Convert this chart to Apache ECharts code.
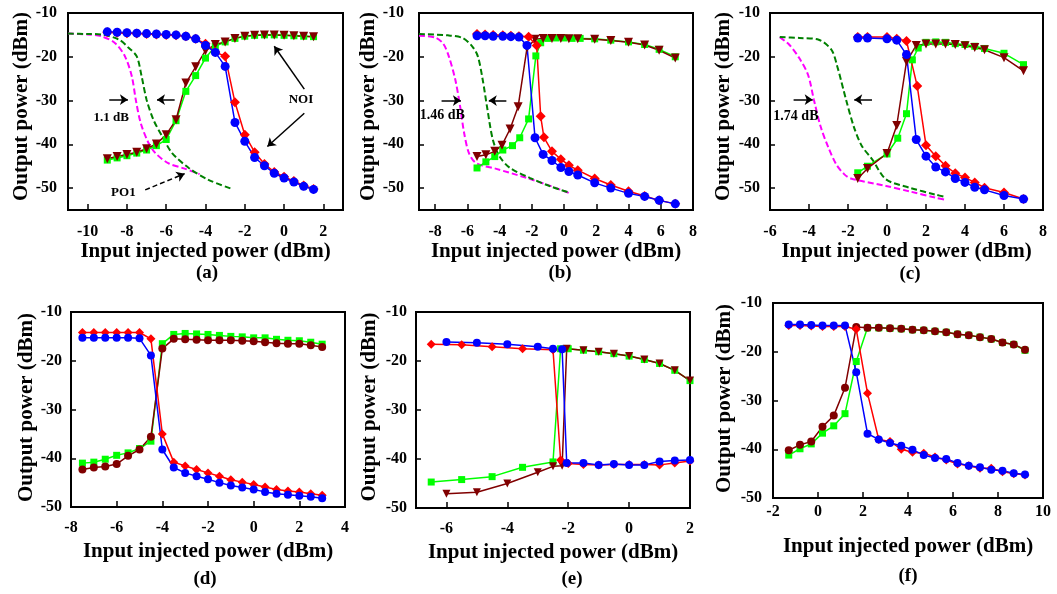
<!DOCTYPE html>
<html><head><meta charset="utf-8">
<script src="https://cdn.jsdelivr.net/npm/echarts@6/dist/echarts.min.js"></script>
<style>html,body{margin:0;padding:0;background:#fff;}#c{width:1057px;height:594px;}</style>
</head><body><div id="c"></div>
<script>
// ---------- tick labels ----------
const a_xt = [-10,-8,-6,-4,-2,0,2];
const b_xt = [-8,-6,-4,-2,0,2,4,6,8];
const c_xt = [-6,-4,-2,0,2,4,6,8];
const d_xt = [-8,-6,-4,-2,0,2,4];
const e_xt = [-6,-4,-2,0,2];
const f_xt = [-2,0,2,4,6,8,10];
const yt = [-10,-20,-30,-40,-50];
const xRanges = [[-11,3],[-9,8],[-6,8],[-8,4],[-7,2],[-2,10]];
const yRanges = [[-55,-10],[-55,-10],[-55,-10],[-50,-10],[-50,-10],[-50,-10]];
const panelLabels = ['(a)','(b)','(c)','(d)','(e)','(f)'];

// ---------- panel (a) ----------
const a_x = [-9,-8.5,-8,-7.5,-7,-6.5,-6,-5.5,-5,-4.5,-4,-3.5,-3,-2.5,-2,-1.5,-1,-0.5,0,0.5,1,1.5];
const a_blue  = [-14.3,-14.4,-14.5,-14.6,-14.7,-14.8,-14.9,-15.0,-15.3,-15.9,-17.4,-19.0,-22.2,-35.0,-39.3,-43.0,-44.9,-46.6,-47.7,-48.6,-49.6,-50.3];
const a_red   = [-14.4,-14.5,-14.6,-14.7,-14.8,-14.9,-15.0,-15.1,-15.3,-15.9,-17.0,-18.9,-19.9,-30.4,-37.8,-41.8,-44.5,-46.3,-47.4,-48.4,-49.4,-50.2];
const a_brown = [-43.3,-42.8,-42.3,-41.8,-41.0,-39.9,-37.8,-34.4,-26.0,-22.3,-18.6,-17.2,-16.6,-15.8,-15.3,-15.1,-15.0,-15.0,-15.1,-15.2,-15.3,-15.4];
const a_green = [-43.6,-43.1,-42.6,-42.0,-41.3,-40.3,-38.9,-34.6,-27.9,-24.3,-20.3,-17.6,-16.6,-15.8,-15.3,-15.1,-15.0,-15.0,-15.1,-15.2,-15.3,-15.4];
const a_magenta = [[-11,-14.7],[-10,-14.9],[-9.3,-15.3],[-8.6,-16.9],[-8.1,-19.9],[-7.75,-24.5],[-7.55,-29.8],[-7.3,-35.1],[-6.9,-39.7],[-6.55,-42],[-5.9,-44.3],[-5.1,-45.5],[-4.3,-46.8]];
const a_greenDash = [[-11,-14.7],[-10,-14.8],[-9.3,-14.9],[-8.4,-16.1],[-7.9,-18],[-7.5,-19.9],[-7.25,-24.5],[-7.0,-29.8],[-6.65,-34.4],[-6.2,-38.2],[-5.7,-42],[-4.85,-45.4],[-3.85,-48.1],[-2.65,-50.2]];
const a_arrows = [[[-8.9,-29.8],[-7.95,-29.8]],[[-5.57,-29.8],[-6.47,-29.8]],[[1.03,-27.4],[-0.5,-17.6]],[[1.03,-32.9],[-0.85,-40.5]]];
const a_dashArrows = [[[-7.07,-50.4],[-5.06,-46.7]]];
const a_texts = [['1.1 dB',-8.8,-34],['NOI',0.86,-29.8],['PO1',-8.18,-51]];

// ---------- panel (b) ----------
const b_blue = [[-5.4,-15.2],[-4.9,-15.2],[-4.4,-15.3],[-3.8,-15.3],[-3.3,-15.4],[-2.8,-15.5],[-2.3,-17.4],[-1.8,-38.5],[-1.3,-42.3],[-0.75,-43.7],[-0.2,-45.3],[0.3,-46.2],[0.85,-47.0],[1.9,-48.8],[2.9,-50.0],[4.0,-51.2],[5.0,-51.9],[5.9,-52.8],[6.9,-53.6]];
const b_red = [[-5.4,-14.8],[-4.9,-14.9],[-4.4,-15.0],[-3.8,-15.1],[-3.3,-15.2],[-2.8,-15.3],[-2.2,-15.4],[-1.7,-17.4],[-1.45,-33.6],[-1.25,-38.4],[-0.75,-41.6],[-0.2,-43.4],[0.3,-44.8],[0.85,-45.9],[1.9,-47.8],[2.9,-49.3],[4.0,-50.7],[5.0,-51.8],[5.9,-52.8],[6.9,-53.6]];
const b_brown = [[-5.4,-42.8],[-4.85,-42.4],[-4.3,-41.6],[-3.85,-40.2],[-3.35,-36.5],[-2.85,-31.4],[-2.3,-18.0],[-1.8,-16.0],[-1.3,-15.8],[-0.75,-15.8],[-0.2,-15.8],[0.3,-15.9],[0.85,-15.9],[1.9,-16.0],[2.9,-16.3],[4.0,-16.7],[5.0,-17.3],[5.9,-18.5],[6.9,-20.3]];
const b_green = [[-5.4,-45.4],[-4.85,-44.0],[-4.3,-42.8],[-3.8,-41.3],[-3.2,-40.3],[-2.75,-38.5],[-2.2,-34.2],[-1.75,-19.8],[-1.45,-16.8],[-1.0,-15.8],[-0.5,-15.7],[0.0,-15.7],[0.5,-15.8],[1.0,-15.8],[1.9,-15.9],[2.9,-16.2],[4.0,-16.6],[5.0,-17.2],[5.9,-18.3],[6.9,-20.0]];
const b_magenta = [[-9,-15.2],[-8,-15.6],[-7.5,-17.0],[-7.15,-19.9],[-6.75,-25.2],[-6.45,-31.3],[-6.2,-37.4],[-5.9,-42],[-5.45,-44.3],[-4.2,-45.6],[-2.3,-47.7],[-0.85,-49.5],[0.3,-51.1]];
const b_greenDash = [[-9,-14.8],[-7.2,-15.1],[-6.3,-15.7],[-5.7,-17.6],[-5.35,-19.9],[-5.05,-25.2],[-4.75,-32.1],[-4.42,-38.9],[-4.0,-42.8],[-3.35,-45.4],[-2.1,-47.7],[-0.85,-49.6],[0.3,-51.0]];
const b_arrows = [[[-7.6,-30],[-6.4,-30]],[[-3.58,-30],[-4.67,-30]]];
const b_texts = [['1.46 dB',-7.55,-33.3]];

// ---------- panel (c) ----------
const c_blue = [[-1.5,-15.7],[-1.0,-15.7],[0,-15.9],[0.5,-16.2],[1.0,-19.5],[1.5,-38.9],[2.0,-42.7],[2.5,-45.2],[3.0,-46.3],[3.5,-47.8],[4.0,-48.7],[4.5,-49.8],[5.0,-50.4],[6.0,-51.7],[7.0,-52.5]];
const c_red = [[-1.5,-15.5],[-1.0,-15.5],[0,-15.5],[0.5,-15.9],[1.0,-16.4],[1.55,-26.7],[2.0,-40.2],[2.5,-42.7],[3.0,-44.9],[3.5,-46.6],[4.0,-47.6],[4.5,-48.7],[5.0,-49.9],[6.0,-51.0],[7.0,-52.5]];
const c_brown = [[-1.5,-47.8],[-1.0,-45.5],[0,-42.1],[0.5,-35.7],[1.0,-21.1],[1.5,-17.4],[2.0,-17.1],[2.5,-17.1],[3.0,-17.1],[3.5,-17.2],[4.0,-17.5],[4.5,-17.9],[5.0,-18.4],[6.0,-20.2],[7.0,-23.2]];
const c_green = [[-1.5,-46.5],[-1.0,-45.0],[0,-42.2],[0.55,-38.6],[1.0,-33.0],[1.3,-20.7],[1.6,-18.0],[2.0,-16.7],[2.5,-16.6],[3.0,-16.7],[3.5,-17.0],[4.0,-17.2],[4.5,-17.6],[5.0,-18.1],[6.0,-19.2],[7.0,-21.8]];
const c_magenta = [[-5.5,-15.5],[-5.0,-17.3],[-4.5,-20.3],[-4.05,-24.1],[-3.75,-29.8],[-3.4,-36],[-3.0,-40.8],[-2.6,-44.6],[-2.2,-46.8],[-1.85,-47.8],[-0.05,-49.5],[1.2,-50.8],[2.5,-52.2],[2.95,-52.6]];
const c_greenDash = [[-5.5,-15.5],[-4.5,-15.7],[-3.5,-16.1],[-2.85,-18.4],[-2.55,-22.2],[-2.1,-29.8],[-1.7,-36],[-1.3,-40.3],[-0.75,-43.5],[-0.05,-48.0],[1.15,-49.9],[2.5,-51.5],[2.95,-52]];
const c_arrows = [[[-4.79,-29.8],[-3.81,-29.8]],[[-0.77,-29.8],[-1.68,-29.8]]];
const c_texts = [['1.74 dB',-4.67,-33.7]];

// ---------- panel (d) ----------
const d_x = [-7.5,-7,-6.5,-6,-5.5,-5,-4.5,-4,-3.5,-3,-2.5,-2,-1.5,-1,-0.5,0,0.5,1,1.5,2,2.5,3];
const d_red   = [-14.2,-14.2,-14.2,-14.2,-14.2,-14.2,-15.5,-35.0,-40.8,-41.6,-42.3,-43.0,-43.7,-44.4,-44.9,-45.4,-45.9,-46.4,-46.7,-46.9,-47.3,-47.6];
const d_blue  = [-15.3,-15.3,-15.3,-15.3,-15.3,-15.4,-18.9,-38.2,-41.9,-43.0,-43.7,-44.3,-45.0,-45.6,-46.0,-46.4,-46.9,-47.3,-47.5,-47.7,-47.9,-48.2];
const d_green = [-41.0,-40.8,-40.2,-39.4,-38.9,-38.0,-36.5,-16.5,-14.6,-14.4,-14.5,-14.6,-14.8,-15.0,-15.1,-15.3,-15.3,-15.6,-15.8,-15.9,-16.2,-16.6];
const d_brown = [-42.3,-41.9,-41.7,-41.2,-39.5,-38.2,-35.6,-17.5,-15.5,-15.6,-15.7,-15.8,-15.8,-15.8,-15.9,-16.0,-16.2,-16.4,-16.5,-16.5,-16.8,-17.2];

// ---------- panel (e) ----------
const e_red = [[-6.5,-16.6],[-5.5,-16.7],[-4.5,-17.1],[-3.5,-17.5],[-2.5,-17.7],[-2.25,-40.2],[-2.0,-40.9],[-1.5,-41.1],[-1.0,-41.2],[-0.5,-41.1],[0,-41.1],[0.5,-41.1],[1.0,-41.2],[1.5,-40.8],[2.0,-40.4]];
const e_blue = [[-6.0,-16.1],[-5.0,-16.3],[-4.0,-16.6],[-3.0,-17.1],[-2.5,-17.5],[-2.2,-17.6],[-2.05,-40.8],[-1.5,-40.8],[-1.0,-41.2],[-0.5,-41.0],[0,-41.2],[0.5,-41.2],[1.0,-40.5],[1.5,-40.3],[2.0,-40.2]];
const e_green = [[-6.5,-44.7],[-5.5,-44.2],[-4.5,-43.6],[-3.5,-41.7],[-2.5,-40.6],[-2.25,-17.5],[-2.0,-17.5],[-1.5,-17.8],[-1.0,-18.1],[-0.5,-18.5],[0,-19.0],[0.5,-19.7],[1.0,-20.5],[1.5,-21.9],[2.0,-24.0]];
const e_brown = [[-6.0,-47.1],[-5.0,-46.8],[-4.0,-45.0],[-3.0,-42.7],[-2.5,-41.5],[-2.2,-41.4],[-2.05,-17.5],[-1.5,-17.8],[-1.0,-18.1],[-0.5,-18.5],[0,-19.0],[0.5,-19.7],[1.0,-20.5],[1.5,-21.9],[2.0,-24.0]];

// ---------- panel (f) ----------
const f_x = [-1.3,-0.8,-0.3,0.2,0.7,1.2,1.7,2.2,2.7,3.2,3.7,4.2,4.7,5.2,5.7,6.2,6.7,7.2,7.7,8.2,8.7,9.2];
const f_blue  = [-14.4,-14.4,-14.5,-14.6,-14.6,-14.6,-24.2,-36.8,-38.0,-38.7,-39.3,-40.1,-41.2,-41.8,-42.0,-42.8,-43.4,-43.7,-44.2,-44.4,-44.9,-45.2];
const f_red   = [-14.6,-14.6,-14.7,-14.8,-14.8,-14.8,-15.4,-28.5,-38.0,-38.4,-40.0,-40.6,-40.8,-41.6,-42.2,-43.0,-43.4,-43.9,-43.9,-44.6,-45.0,-45.3];
const f_brown = [-40.2,-39.1,-38.4,-35.4,-33.1,-27.4,-14.9,-15.1,-15.1,-15.2,-15.3,-15.5,-15.6,-15.8,-16.0,-16.4,-16.6,-17.0,-17.4,-18.1,-18.5,-19.6];
const f_green = [-41.2,-39.9,-38.9,-36.7,-35.2,-32.7,-22.0,-15.1,-15.1,-15.2,-15.3,-15.5,-15.6,-15.8,-16.0,-16.4,-16.6,-17.0,-17.4,-18.1,-18.5,-19.7];

// ---------- helpers ----------
const zip = (xs, ys) => xs.map((x, i) => [x, ys[i]]);
const FONT = 'Liberation Serif';
const grids = [
  {left:68, top:13, width:275, height:197},
  {left:419, top:13, width:274, height:197},
  {left:770, top:13, width:273, height:197},
  {left:71, top:312, width:274, height:195},
  {left:416, top:312, width:274, height:196},
  {left:773, top:303, width:270, height:195}
];
const xTicks = [a_xt, b_xt, c_xt, d_xt, e_xt, f_xt];
const xLabelMargin = [14,14,14,13,13,6];
const xNameGap = [31,31,31,34,34,38];
const yLabelMargin = [11,15,10,9,9,11];
const yNameGap = [34,35,36,34,36,38];
const yNamePad = [[0,0,0,10],[0,0,0,10],[0,0,0,10],[0,0,0,4],[0,0,0,6],[0,0,0,4]];
const labelPos = [[207,273],[560,273],[910,274],[205,579],[572,579],[908,576]];

const txt = {color:'#000', fontFamily:FONT, fontWeight:'bold'};
const gridOpt = grids.map(g => Object.assign({show:true, borderColor:'#000', borderWidth:2, backgroundColor:'transparent'}, g));
const xAxes = grids.map((g, i) => ({
  type:'value', gridIndex:i, min:xRanges[i][0], max:xRanges[i][1],
  axisLine:{show:true, onZero:false, lineStyle:{color:'#000', width:2}}, splitLine:{show:false},
  axisTick:{show:true, inside:true, length:6, customValues:xTicks[i], lineStyle:{color:'#000', width:1.5}},
  axisLabel:Object.assign({customValues:xTicks[i], margin:xLabelMargin[i], fontSize:16}, txt),
  name:'Input injected power (dBm)', nameLocation:'middle', nameGap:xNameGap[i],
  nameTextStyle:Object.assign({fontSize:21}, txt)
}));
const yAxes = grids.map((g, i) => ({
  type:'value', gridIndex:i, min:yRanges[i][0], max:yRanges[i][1],
  axisLine:{show:true, onZero:false, lineStyle:{color:'#000', width:2}}, splitLine:{show:false},
  axisTick:{show:true, inside:true, length:5, customValues:yt, lineStyle:{color:'#000', width:1.5}},
  axisLabel:Object.assign({customValues:yt, margin:yLabelMargin[i], fontSize:16}, txt),
  name:'Output power (dBm)', nameLocation:'middle', nameRotate:90, nameGap:yNameGap[i],
  nameTextStyle:Object.assign({fontSize:21, padding:yNamePad[i]}, txt)
}));

const STY = {
  blue:  {color:'#0000ff', symbol:'circle', size:9},
  red:   {color:'#ff0000', symbol:'diamond', size:10},
  green: {color:'#00ff00', symbol:'rect', size:7},
  brown: {color:'#800000', symbol:'triangle', size:9, rot:180},
  brownC:{color:'#800000', symbol:'circle', size:9}
};
function mark(i, data, key, sizeAdj) {
  const s = STY[key];
  return {
    type:'line', xAxisIndex:i, yAxisIndex:i, data:data,
    symbol:s.symbol, symbolSize:s.size + (sizeAdj || 0), symbolRotate:s.rot || 0,
    showAllSymbol:true, clip:false,
    lineStyle:{color:s.color, width:1.5}, itemStyle:{color:s.color},
    emphasis:{disabled:true}
  };
}
function dashed(i, data, color, extra) {
  return Object.assign({
    type:'line', xAxisIndex:i, yAxisIndex:i, data:data, smooth:0.3,
    showSymbol:false, symbol:'none',
    lineStyle:{color:color, width:2, type:[6,3]}, emphasis:{disabled:true}
  }, extra || {});
}
function annot(arrows, dashArrows, texts, fs) {
  const lines = arrows.map(a => [{coord:a[0], lineStyle:{type:'solid'}}, {coord:a[1]}]);
  const dl = (dashArrows || []).map(a => [{coord:a[0], lineStyle:{type:[5,3]}}, {coord:a[1]}]);
  return {
    markLine:{silent:true, symbol:['none','arrow'], symbolSize:8, label:{show:false},
      lineStyle:{color:'#000', width:1.5, type:'solid'}, data:lines.concat(dl)},
    markPoint:{silent:true, symbol:'circle', symbolSize:0,
      label:Object.assign({show:true, position:'inside', formatter:'{b}', fontSize:fs}, txt),
      data:texts.map(t => ({name:t[0], coord:[t[1], t[2]]}))}
  };
}

const series = [
  // (a)
  dashed(0, a_magenta, '#ff00ff'),
  dashed(0, a_greenDash, '#008000', annot(a_arrows, a_dashArrows, a_texts, 13)),
  mark(0, zip(a_x, a_green), 'green'),
  mark(0, zip(a_x, a_brown), 'brown'),
  mark(0, zip(a_x, a_red), 'red'),
  mark(0, zip(a_x, a_blue), 'blue'),
  // (b)
  dashed(1, b_magenta, '#ff00ff'),
  dashed(1, b_greenDash, '#008000', annot(b_arrows, [], b_texts, 14)),
  mark(1, b_green, 'green'),
  mark(1, b_brown, 'brown'),
  mark(1, b_red, 'red'),
  mark(1, b_blue, 'blue'),
  // (c)
  dashed(2, c_magenta, '#ff00ff'),
  dashed(2, c_greenDash, '#008000', annot(c_arrows, [], c_texts, 14)),
  mark(2, c_green, 'green'),
  mark(2, c_brown, 'brown'),
  mark(2, c_red, 'red'),
  mark(2, c_blue, 'blue'),
  // (d)
  mark(3, zip(d_x, d_green), 'green'),
  mark(3, zip(d_x, d_brown), 'brownC', -1),
  mark(3, zip(d_x, d_red), 'red', -1),
  mark(3, zip(d_x, d_blue), 'blue', -1),
  // (e)
  mark(4, e_green, 'green'),
  mark(4, e_brown, 'brown', -1),
  mark(4, e_red, 'red', -1),
  mark(4, e_blue, 'blue', -1),
  // (f)
  mark(5, zip(f_x, f_green), 'green'),
  mark(5, zip(f_x, f_brown), 'brownC', -1),
  mark(5, zip(f_x, f_red), 'red', -1),
  mark(5, zip(f_x, f_blue), 'blue', -1)
];

const graphic = panelLabels.map((t, i) => ({
  type:'text', x:labelPos[i][0], y:labelPos[i][1], silent:true,
  style:{text:t, fill:'#000', font:'bold 19px "Liberation Serif"', textAlign:'center', textVerticalAlign:'middle'}
}));

const chart = echarts.init(document.getElementById('c'), null, {renderer:'canvas'});
chart.setOption({
  animation:false, backgroundColor:'#fff',
  grid:gridOpt, xAxis:xAxes, yAxis:yAxes, series:series, graphic:graphic
});
</script></body></html>
